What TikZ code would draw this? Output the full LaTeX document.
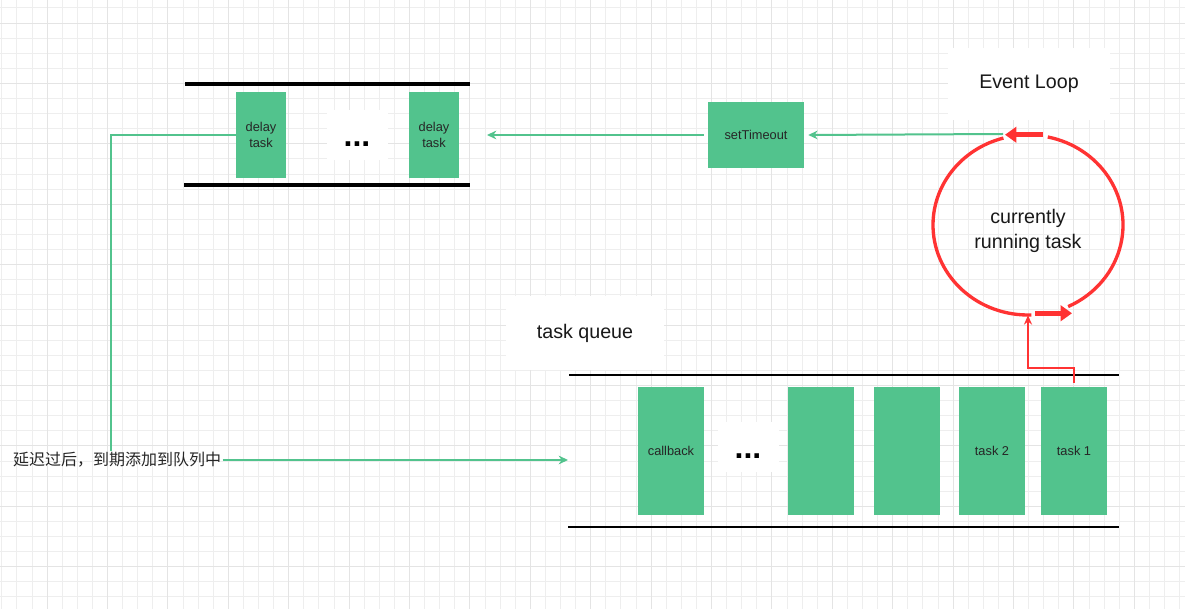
\documentclass[tikz,border=0pt]{standalone}
\usepackage{fontspec}
\setmainfont{Liberation Sans}
\newfontfamily\cjk{Noto Sans CJK SC}
\usetikzlibrary{shapes.geometric,arrows.meta,positioning}
\definecolor{taskgreen}{HTML}{52C38D}
\definecolor{loopred}{HTML}{FF3333}
\definecolor{gridminor}{HTML}{EEEEEE}
\definecolor{gridmajor}{HTML}{E4E4E4}

\begin{document}
\begin{tikzpicture}[x=0.75pt, y=-0.75pt]
    % Define styles
    \tikzstyle{task} = [rectangle, fill=taskgreen, text=black!85, text centered, inner sep=0pt, align=center, font=\fontsize{9.6}{11.5}\selectfont]
    \tikzstyle{delaybox} = [task, minimum width=37.5pt, minimum height=64.5pt]
    \tikzstyle{queued} = [task, minimum width=49.5pt, minimum height=96pt]
    \tikzstyle{title} = [fill=white, text=black!90, align=center, font=\fontsize{14.75}{18.5}\selectfont]
    \tikzstyle{dots} = [fill=white, minimum width=45.75pt, minimum height=37.5pt, inner sep=0pt, font=\fontsize{24}{24}\selectfont\bfseries]
    \tikzstyle{rail} = [draw, black, line width=3pt]
    \tikzstyle{line} = [draw, taskgreen, line width=1.5pt, -{Stealth[length=7pt,width=6.5pt]}]
    \tikzstyle{ring} = [draw, loopred, line width=2.5pt]
    \tikzstyle{redturn} = [draw, loopred, line width=3.75pt, -{Triangle[length=8.5pt,width=11.5pt]}]
    \tikzstyle{redline} = [draw, loopred, line width=1.5pt, -{Stealth[length=7pt,width=6pt]}]

    % Background grid
    \useasboundingbox (0,0) rectangle (1185,609);
    \fill[white] (0,0) rectangle (1185,609);
    \begin{scope}
        \clip (0,0) rectangle (1185,609);
        \foreach \i in {0,...,78}
            \draw[gridminor, line width=0.6pt] ({1.7+15.1*\i},0) -- ++(0,609);
        \foreach \j in {0,...,40}
            \draw[gridminor, line width=0.6pt] (0,{7.9+15.1*\j}) -- ++(1185,0);
        \foreach \i in {0,...,19}
            \draw[gridmajor, line width=0.7pt] ({47+60.4*\i},0) -- ++(0,609);
        \foreach \j in {0,...,9}
            \draw[gridmajor, line width=0.7pt] (0,{23+60.4*\j}) -- ++(1185,0);
    \end{scope}

    % Delay queue
    \draw[rail] (185,84) -- (470,84);
    \draw[rail] (184,185) -- (470,185);
    \node[delaybox] (delay1) at (261,135) {delay\\task};
    \node[dots] (delaydots) at (357,135) {\vphantom{A}...};
    \node[delaybox] (delay2) at (434,135) {delay\\task};
    \coordinate (delayin) at (487,135);

    % Timer
    \node[task, minimum width=72pt, minimum height=49.5pt] (timeout) at (756,135) {setTimeout};

    % Event loop
    \node[title, minimum width=121.5pt, minimum height=54pt] (eventloop) at (1029,84) {Event Loop};
    \node[ellipse, minimum width=142.5pt, minimum height=135pt, align=center, text=black!90,
          font=\fontsize{14.75}{18.5}\selectfont] (running) at (1028,225) {\\[1pt]currently\\running task};
    \draw[ring] (running.center) ++(-78:95 and 90) arc[start angle=-78, end angle=65, x radius=95, y radius=90];
    \draw[ring] (running.center) ++(88:95 and 90) arc[start angle=88, end angle=255, x radius=95, y radius=90];
    \draw[redturn] (running.north) ++(15,0) -- ++(-38,0);
    \draw[redturn] (running.south) ++(7,-2) -- ++(37,0);
    \coordinate (looptop) at (1003,134);

    % Task queue
    \node[title, minimum width=118.5pt, minimum height=56pt] (queuelabel) at (585,333) {task queue};
    \draw[rail, line width=1.5pt] (569,375) -- (1119,375);
    \draw[rail, line width=1.5pt] (568,527) -- (1119,527);
    \node[queued] (callback) at (671,451) {callback};
    \node[dots] (queuedots) at (748,447) {\vphantom{A}...};
    \node[queued] (task4) at (821,451) {};
    \node[queued] (task3) at (907,451) {};
    \node[queued] (task2) at (992,451) {task 2};
    \node[queued] (task1) at (1074,451) {task 1};
    \coordinate (queuein) at (568,460);

    % Delay note
    \node[inner sep=1pt, text=black!85, font=\cjk\fontsize{12}{14}\selectfont] (delaynote) at (117,460) {延迟过后，到期添加到队列中};

    % Connect components
    \path[line] (looptop) -- ([xshift=3pt]timeout.east);
    \path[line] ([xshift=-3pt]timeout.west) -- (delayin);
    \draw[taskgreen, line width=1.5pt] (delay1.west) -| ([xshift=-4.5pt]delaynote.north);
    \path[line] (delaynote.east) -- (queuein);
    \path[redline] ([yshift=3pt]task1.north) -- ++(0,-15) -| (running.south);
\end{tikzpicture}
\end{document}
